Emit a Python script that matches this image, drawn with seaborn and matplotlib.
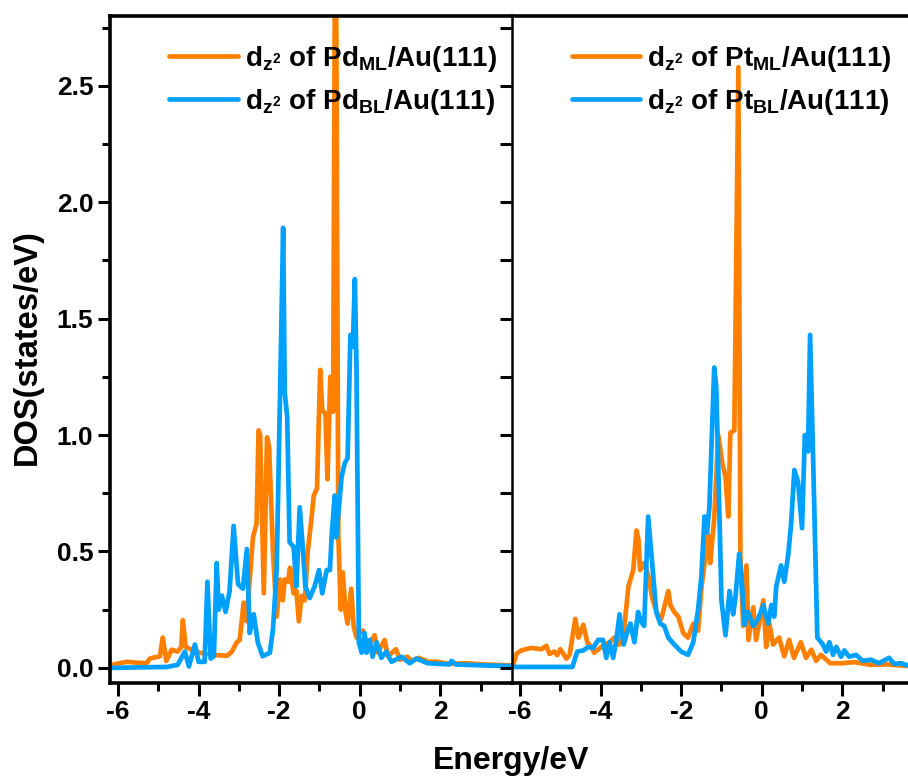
import matplotlib
matplotlib.use("Agg")
import matplotlib.pyplot as plt
import numpy as np
import pandas as pd
import seaborn as sns
from matplotlib.ticker import MultipleLocator, FormatStrFormatter

# d_z2 projected DOS, Pd monolayer on Au(111)
pd_ml_energy = [-6.20, -6.15, -5.95, -5.78, -5.50, -5.29, -5.21, -4.96, -4.89, -4.80, -4.67,
                -4.52, -4.43, -4.39, -4.32, -4.17, -3.97, -3.65, -3.30, -3.18, -3.05, -2.98,
                -2.88, -2.81, -2.65, -2.56, -2.51, -2.47, -2.38, -2.30, -2.25, -2.15, -2.06,
                -1.98, -1.91, -1.86, -1.78, -1.73, -1.64, -1.57, -1.51, -1.44, -1.36, -1.29,
                -1.21, -1.14, -1.06, -0.98, -0.93, -0.85, -0.80, -0.73, -0.66, -0.60, -0.53,
                -0.47, -0.42, -0.35, -0.30, -0.21, -0.15, -0.08, 0.00, 0.08, 0.17, 0.27,
                0.37, 0.45, 0.62, 0.70, 0.90, 1.00, 1.18, 1.29, 1.47, 1.70, 1.90, 2.23,
                2.65, 3.05, 3.50, 4.00]
pd_ml_dos = [0.010, 0.013, 0.020, 0.026, 0.022, 0.020, 0.040, 0.050, 0.130, 0.030, 0.078,
             0.070, 0.090, 0.205, 0.090, 0.078, 0.065, 0.056, 0.052, 0.068, 0.110, 0.120,
             0.280, 0.200, 0.560, 0.620, 1.020, 1.000, 0.320, 0.990, 0.950, 0.490, 0.220,
             0.380, 0.290, 0.380, 0.370, 0.430, 0.320, 0.330, 0.200, 0.310, 0.290, 0.500,
             0.620, 0.740, 0.770, 1.280, 1.110, 1.090, 0.810, 1.250, 1.100, 3.600, 0.570,
             0.250, 0.410, 0.240, 0.190, 0.340, 0.180, 0.130, 0.150, 0.160, 0.110, 0.110,
             0.140, 0.065, 0.120, 0.050, 0.080, 0.035, 0.048, 0.030, 0.043, 0.026, 0.027,
             0.017, 0.020, 0.015, 0.012, 0.010]

# d_z2 projected DOS, Pd bilayer on Au(111)
pd_bl_energy = [-6.20, -5.50, -4.79, -4.52, -4.34, -4.24, -4.09, -4.00, -3.85, -3.78, -3.70,
                -3.62, -3.55, -3.50, -3.42, -3.33, -3.23, -3.13, -3.02, -2.90, -2.80, -2.73,
                -2.63, -2.53, -2.41, -2.23, -2.15, -2.06, -1.98, -1.90, -1.86, -1.80, -1.74,
                -1.64, -1.57, -1.49, -1.41, -1.35, -1.24, -1.12, -1.01, -0.93, -0.82, -0.74,
                -0.69, -0.62, -0.58, -0.45, -0.37, -0.30, -0.23, -0.17, -0.12, -0.08, -0.02,
                0.05, 0.12, 0.17, 0.25, 0.32, 0.42, 0.54, 0.66, 0.79, 1.04, 1.24, 1.41,
                1.69, 2.00, 2.23, 2.28, 2.40, 2.65, 3.20, 3.70, 4.00]
pd_bl_dos = [0.000, 0.002, 0.004, 0.013, 0.070, 0.006, 0.100, 0.026, 0.026, 0.370, 0.040,
             0.050, 0.450, 0.250, 0.310, 0.240, 0.330, 0.610, 0.360, 0.340, 0.510, 0.150,
             0.230, 0.110, 0.050, 0.065, 0.170, 0.430, 1.150, 1.890, 1.180, 1.080, 0.540,
             0.520, 0.350, 0.690, 0.510, 0.350, 0.300, 0.350, 0.420, 0.320, 0.420, 0.420,
             0.580, 0.740, 0.560, 0.820, 0.880, 0.900, 1.430, 1.380, 1.670, 1.300, 0.110,
             0.065, 0.150, 0.065, 0.120, 0.048, 0.110, 0.043, 0.070, 0.026, 0.048, 0.020,
             0.040, 0.020, 0.017, 0.015, 0.030, 0.014, 0.013, 0.010, 0.008, 0.007]

# d_z2 projected DOS, Pt monolayer on Au(111)
pt_ml_energy = [-6.20, -6.17, -6.09, -5.97, -5.72, -5.47, -5.35, -5.27, -5.15, -5.08, -5.00,
                -4.85, -4.77, -4.63, -4.55, -4.43, -4.33, -4.23, -4.16, -3.98, -3.78, -3.66,
                -3.54, -3.41, -3.31, -3.19, -3.11, -3.06, -3.02, -2.92, -2.82, -2.72, -2.57,
                -2.50, -2.42, -2.32, -2.27, -2.17, -2.07, -1.95, -1.83, -1.70, -1.58, -1.50,
                -1.42, -1.33, -1.28, -1.18, -1.08, -0.98, -0.90, -0.83, -0.78, -0.68, -0.58,
                -0.53, -0.46, -0.38, -0.33, -0.21, -0.14, 0.04, 0.11, 0.19, 0.28, 0.43,
                0.56, 0.68, 0.80, 0.97, 1.10, 1.23, 1.35, 1.47, 1.70, 2.00, 2.30, 2.70,
                3.10, 3.66, 4.00]
pt_ml_dos = [0.005, 0.013, 0.060, 0.075, 0.086, 0.080, 0.095, 0.060, 0.070, 0.055, 0.080,
             0.040, 0.056, 0.210, 0.130, 0.185, 0.110, 0.090, 0.065, 0.090, 0.110, 0.130,
             0.100, 0.180, 0.350, 0.420, 0.590, 0.550, 0.420, 0.450, 0.400, 0.300, 0.220,
             0.210, 0.260, 0.330, 0.270, 0.240, 0.220, 0.150, 0.130, 0.190, 0.160, 0.340,
             0.450, 0.570, 0.450, 0.640, 1.000, 0.880, 0.820, 0.650, 1.010, 1.020, 2.580,
             0.470, 0.180, 0.440, 0.120, 0.260, 0.120, 0.290, 0.090, 0.190, 0.100, 0.130,
             0.050, 0.120, 0.043, 0.110, 0.043, 0.078, 0.030, 0.056, 0.020, 0.020, 0.025,
             0.013, 0.015, 0.008, 0.006]

# d_z2 projected DOS, Pt bilayer on Au(111)
pt_bl_energy = [-6.20, -5.00, -4.70, -4.58, -4.43, -4.31, -4.19, -4.06, -3.94, -3.86, -3.78,
                -3.69, -3.61, -3.53, -3.43, -3.31, -3.26, -3.16, -3.07, -3.00, -2.92, -2.82,
                -2.72, -2.62, -2.52, -2.42, -2.32, -2.17, -2.00, -1.83, -1.70, -1.58, -1.50,
                -1.42, -1.36, -1.30, -1.18, -1.13, -1.08, -1.00, -0.90, -0.80, -0.71, -0.66,
                -0.56, -0.50, -0.43, -0.34, -0.21, -0.09, 0.04, 0.16, 0.24, 0.31, 0.36,
                0.48, 0.56, 0.66, 0.73, 0.81, 0.90, 1.00, 1.07, 1.15, 1.20, 1.27, 1.38,
                1.52, 1.60, 1.68, 1.77, 1.85, 1.97, 2.05, 2.17, 2.34, 2.51, 2.71, 2.91,
                3.16, 3.29, 3.46, 3.66, 4.00]
pt_bl_dos = [0.004, 0.004, 0.004, 0.070, 0.075, 0.090, 0.085, 0.120, 0.120, 0.043, 0.110,
             0.043, 0.120, 0.230, 0.100, 0.170, 0.190, 0.110, 0.240, 0.200, 0.180, 0.650,
             0.450, 0.240, 0.190, 0.180, 0.130, 0.100, 0.070, 0.056, 0.110, 0.250, 0.390,
             0.650, 0.580, 0.690, 1.290, 1.210, 0.870, 0.290, 0.140, 0.330, 0.230, 0.290,
             0.490, 0.390, 0.185, 0.240, 0.180, 0.210, 0.270, 0.190, 0.270, 0.220, 0.350,
             0.440, 0.370, 0.490, 0.620, 0.850, 0.800, 0.600, 1.000, 0.930, 1.430, 0.940,
             0.130, 0.100, 0.070, 0.110, 0.056, 0.090, 0.048, 0.075, 0.048, 0.056, 0.030,
             0.035, 0.020, 0.043, 0.017, 0.020, 0.008, 0.006]

x_ticks = [-6, -4, -2, 0, 2]
y_ticks = [0.0, 0.5, 1.0, 1.5, 2.0, 2.5]

ORANGE = "#ff8000"
BLUE = "#00a0ff"

sns.set_style("ticks")
plt.rcParams["font.family"] = ["Liberation Sans", "DejaVu Sans"]
plt.rcParams["font.weight"] = "bold"
plt.rcParams["mathtext.fontset"] = "custom"
plt.rcParams["mathtext.rm"] = "Liberation Sans:bold"
plt.rcParams["mathtext.it"] = "Liberation Sans:bold"
plt.rcParams["mathtext.bf"] = "Liberation Sans:bold"
plt.rcParams["mathtext.default"] = "rm"
plt.rcParams["axes.unicode_minus"] = False
for key in ["text.color", "axes.labelcolor", "xtick.color", "ytick.color",
            "axes.edgecolor", "xtick.labelcolor", "ytick.labelcolor"]:
    plt.rcParams[key] = "black"

fig = plt.figure(figsize=(9.08, 7.83), dpi=100)
ax_l = fig.add_axes([0.1211, 0.1277, 0.4427, 0.8519])
ax_r = fig.add_axes([0.5639, 0.1277, 0.4427, 0.8519])

panels = [
    (ax_l, pd_ml_energy, pd_ml_dos, pd_bl_energy, pd_bl_dos, "Pd"),
    (ax_r, pt_ml_energy, pt_ml_dos, pt_bl_energy, pt_bl_dos, "Pt"),
]

for ax, e_ml, d_ml, e_bl, d_bl, metal in panels:
    df_ml = pd.DataFrame({"Energy": e_ml, "DOS": d_ml})
    df_bl = pd.DataFrame({"Energy": e_bl, "DOS": d_bl})
    sns.lineplot(data=df_ml, x="Energy", y="DOS", ax=ax, color=ORANGE, lw=3.4,
                 sort=False, estimator=None,
                 label=r"d$_{z^2}$ of " + metal + r"$_{ML}$/Au(111)")
    sns.lineplot(data=df_bl, x="Energy", y="DOS", ax=ax, color=BLUE, lw=3.4,
                 sort=False, estimator=None,
                 label=r"d$_{z^2}$ of " + metal + r"$_{BL}$/Au(111)")
    ax.set_xlim(-6.2, 3.78)
    ax.set_ylim(-0.065, 2.8)
    ax.set_xticks(x_ticks)
    ax.set_yticks(y_ticks)
    ax.xaxis.set_minor_locator(MultipleLocator(1))
    ax.yaxis.set_minor_locator(MultipleLocator(0.25))
    ax.yaxis.set_major_formatter(FormatStrFormatter("%.1f"))
    ax.tick_params(which="major", direction="out", length=9, width=2.2,
                   labelsize=19, pad=3, colors="black")
    ax.tick_params(which="minor", direction="out", length=5.5, width=2.2,
                   colors="black")
    ax.set_xlabel("")
    ax.set_ylabel("")
    for sp in ax.spines.values():
        sp.set_linewidth(2.6)
        sp.set_color("black")
    leg = ax.legend(loc="upper left", bbox_to_anchor=(0.148, 0.958), frameon=False,
                    fontsize=20, handlelength=2.45, handletextpad=0.28,
                    labelspacing=0.47, borderpad=0, borderaxespad=0)
    for t in leg.get_texts():
        t.set_fontweight("bold")
        t.set_color("black")

ax_l.spines["right"].set_visible(False)
ax_r.spines["left"].set_linewidth(1.8)
ax_r.tick_params(axis="y", labelleft=False)
ax_r.tick_params(axis="y", which="both", length=9)

ax_l.set_ylabel("DOS(states/eV)", fontsize=23.5, fontweight="bold", color="black")
ax_l.yaxis.set_label_coords(-0.168, 0.504)
fig.text(511 / 908, 22 / 783, "Energy/eV", ha="center", va="center",
         fontsize=23, fontweight="bold", color="black")

fig.savefig("out.png", dpi=100)
